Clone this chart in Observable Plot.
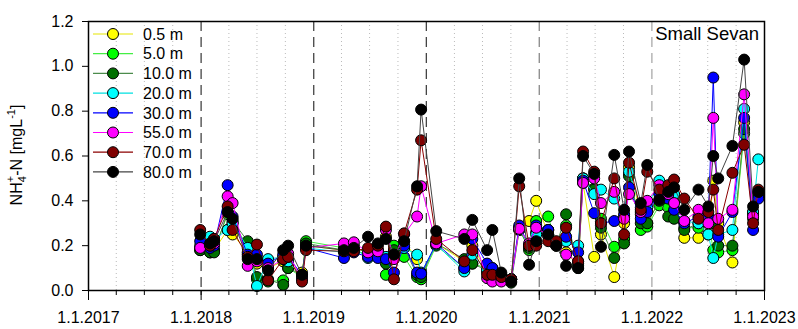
<!DOCTYPE html>
<html><head><meta charset="utf-8">
<script src="https://cdn.jsdelivr.net/npm/d3@7"></script>
<script src="https://cdn.jsdelivr.net/npm/@observablehq/plot@0.6"></script>
<style>body{margin:0;background:#fff}#chart{width:798px;height:329px}</style>
</head><body><div id="chart"></div>
<script>
const dates = ["2017-12-29","2018-01-30","2018-02-12","2018-03-28","2018-04-13","2018-06-01","2018-07-01","2018-08-06","2018-09-24","2018-10-10","2018-11-24","2018-12-07",
"2019-04-09","2019-05-11","2019-06-26","2019-07-28","2019-08-23","2019-09-18","2019-10-21","2019-12-02","2019-12-15",
"2020-02-02","2020-05-03","2020-05-29","2020-07-16","2020-08-02","2020-08-31","2020-10-02","2020-10-28","2020-11-29","2020-12-22",
"2021-01-30","2021-02-25","2021-03-29","2021-05-07","2021-05-23","2021-06-28","2021-07-20","2021-09-01","2021-10-03","2021-10-19","2021-11-26","2021-12-17",
"2022-01-25","2022-02-23","2022-03-14","2022-04-16","2022-06-01","2022-07-03","2022-07-19","2022-08-04","2022-09-19","2022-10-27","2022-11-25","2022-12-12"];

const d05 = [.19,.18,.18,.27,.25,.17,.12,.10,.13,.12,.08,.20, .18,.19,.17,.18,.24,.18,.22,.14,.07, .21,.13,.20,.08,.08,.07,.05,.27,.31,.40, .25,.20,.17,.11,.48,.15,.25,.06,.30,.55,.34,.30, .40,.42,.40,.235,.235,.25,.49,.30,.125,.75,.32,.42];
const d5 = [.18,.17,.18,.34,.30,.20,.05,.04,.045,.10,.06,.22, .19,.18,.16,.17,.07,.20,.15,.06,.05, .20,.10,.12,.10,.07,.06,.05,.28,.18,.31, .33,.21,.29,.12,.50,.455,.32,.195,.23,.52,.27,.285, .38,.37,.35,.28,.28,.31,.18,.17,.18,.70,.34,.43];
const d10 = [.18,.17,.17,.35,.31,.22,.06,.05,.025,.10,.07,.21, .18,.20,.16,.18,.12,.18,.19,.07,.06, .21,.14,.12,.09,.09,.05,.035,.27,.19,.26, .27,.20,.34,.10,.50,.45,.28,.145,.21,.51,.30,.30, .40,.33,.32,.27,.30,.30,.30,.20,.20,.72,.35,.43];
const d20 = [.20,.24,.23,.27,.30,.19,.02,.14,.15,.13,.06,.19, .17,.19,.145,.16,.15,.16,.19,.16,.08, .205,.085,.16,.09,.10,.06,.05,.28,.20,.25, .27,.21,.22,.20,.50,.43,.45,.41,.33,.53,.37,.37, .49,.44,.43,.31,.30,.25,.145,.25,.27,.81,.35,.585];
const d30 = [.22,.19,.20,.47,.33,.16,.16,.12,.16,.15,.07,.19, .145,.17,.15,.145,.14,.08,.20,.08,.075, .21,.10,.23,.12,.10,.05,.05,.29,.20,.29, .27,.21,.24,.17,.49,.345,.30,.31,.34,.46,.32,.35, .43,.41,.36,.30,.33,.33,.95,.24,.35,.77,.27,.41];
const d55 = [.19,.20,.21,.42,.39,.11,.13,.10,.14,.165,.05,.19, .21,.215,.17,.175,.27,.14,.25,.33,.465, .21,.25,.25,.055,.04,.04,.05,.275,.21,.28, .245,.21,.16,.13,.48,.50,.39,.44,.32,.43,.35,.40, .47,.43,.39,.31,.36,.30,.77,.32,.36,.875,.33,.44];
const d70 = [.27,.20,.23,.375,.27,.15,.205,.045,.14,.15,.04,.18, .175,.175,.19,.20,.285,.05,.255,.45,.67, .23,.13,.18,.07,.07,.06,.05,.465,.20,.20, .22,.22,.28,.13,.62,.53,.30,.50,.25,.57,.36,.53, .45,.47,.495,.41,.32,.35,.45,.27,.525,.65,.30,.45];
const d80 = [.25,.21,.22,.35,.32,.14,.14,.09,.18,.20,.07,.20, .18,.19,.24,.21,.23,.16,.22,.465,.807, .265,.23,.315,.18,.27,.08,.04,.50,.115,.22, .25,.20,.11,.10,.60,.52,.195,.605,.36,.62,.39,.56, .405,.44,.46,.36,.45,.375,.60,.50,.645,1.03,.375,.44];

const depthLabels = ["0.5 m","5.0 m","10.0 m","20.0 m","30.0 m","55.0 m","70.0 m","80.0 m"];
const fillColors = ["#ffff00","#00ff00","#007000","#00ffff","#0000ff","#ff00ff","#800000","#000000"];
const lineColors = ["#e6e600","#44ee44","#4c8c4c","#00e0e0","#0000ff","#ff00ff","#8b0000","#444444"];
const yTicks = [0,0.2,0.4,0.6,0.8,1.0,1.2];
const yearTicks = [2017,2018,2019,2020,2021,2022,2023];
const yearLines = [2018,2019,2020,2021,2022];
const yearLineColors = ["#444","#444","#444","#888","#aaa"];

const seriesValues = [d05,d5,d10,d20,d30,d55,d70,d80];
const rows = [];
seriesValues.forEach((vals, s) => vals.forEach((v, i) => rows.push({date: new Date(dates[i]), value: v, s})));

const quarters = d3.utcMonth.every(3).range(new Date("2017-01-01"), new Date("2023-01-02"));
const quarterGrid = quarters.filter(d => d.getUTCMonth() !== 0);
const yearDates = yearTicks.map(y => new Date(Date.UTC(y,0,1)));
const yearLineData = yearLines.map((y, i) => ({d: new Date(Date.UTC(y,0,1)), c: yearLineColors[i]}));

const marks = [
  Plot.ruleX(quarterGrid, {stroke: "#bbb", strokeDasharray: "1,3"}),
  Plot.ruleX(yearLineData, {x: "d", stroke: "c", strokeWidth: 1.3, strokeDasharray: "10,6"}),
];
seriesValues.forEach((_, s) => {
  const sub = rows.filter(r => r.s === s);
  marks.push(Plot.line(sub, {x: "date", y: "value", stroke: lineColors[s], strokeWidth: 1}));
  marks.push(Plot.dot(sub, {x: "date", y: "value", r: 5.5, fill: fillColors[s], stroke: "#000", strokeWidth: 1}));
});
marks.push(
  Plot.frame({stroke: "#000", strokeWidth: 1.5}),
  Plot.axisX(quarters, {tickSize: 5, tickFormat: () => "", label: null, stroke: "#000"}),
  Plot.axisX(yearDates, {tickSize: 10, tickPadding: 11, tickFormat: d => "1.1." + d.getUTCFullYear(), label: null, fill: "#000", stroke: "#000"}),
  Plot.axisY(yTicks, {tickSize: 6, tickPadding: 9, tickFormat: d3.format(".1f"), label: null, fill: "#000", stroke: "#000"})
);

const plot = Plot.plot({
  width: 798, height: 329,
  marginLeft: 88, marginRight: 34, marginTop: 21, marginBottom: 39,
  style: {fontFamily: "Liberation Sans, Arial, sans-serif", fontSize: "16px", color: "#000", background: "#fff"},
  x: {type: "utc", domain: [new Date("2017-01-01"), new Date("2023-01-01")]},
  y: {domain: [0, 1.2]},
  marks
});

const svg = d3.select(plot);
// y-axis label
const yl = svg.append("text").attr("transform", "translate(22,155) rotate(-90)")
  .attr("text-anchor", "middle").attr("font-size", 16).attr("fill", "#000");
yl.append("tspan").text("NH");
yl.append("tspan").attr("font-size", 11).attr("dy", 4).text("4");
yl.append("tspan").attr("font-size", 11).attr("dx", -6).attr("dy", -12).text("+");
yl.append("tspan").attr("dy", 8).text("-N [mgL");
yl.append("tspan").attr("font-size", 11).attr("dy", -7).text("-1");
yl.append("tspan").attr("dy", 7).text("]");

// title
svg.append("text").attr("x", 759).attr("y", 40).attr("text-anchor", "end")
  .attr("font-size", 18.5).attr("fill", "#000").text("Small Sevan");

// legend
const lg = svg.append("g").attr("text-anchor", "start");
depthLabels.forEach((lab, i) => {
  const cy = 34 + i * 19.7;
  lg.append("line").attr("x1", 93).attr("x2", 133).attr("y1", cy).attr("y2", cy).attr("stroke", lineColors[i]).attr("stroke-width", 1.2);
  lg.append("circle").attr("cx", 113).attr("cy", cy).attr("r", 5.5).attr("fill", fillColors[i]).attr("stroke", "#000");
  lg.append("text").attr("x", 143).attr("y", cy).attr("dy", "0.36em").attr("text-anchor", "start").attr("font-size", 16).attr("fill", "#000").text(lab);
});

document.getElementById("chart").appendChild(plot);
</script></body></html>
